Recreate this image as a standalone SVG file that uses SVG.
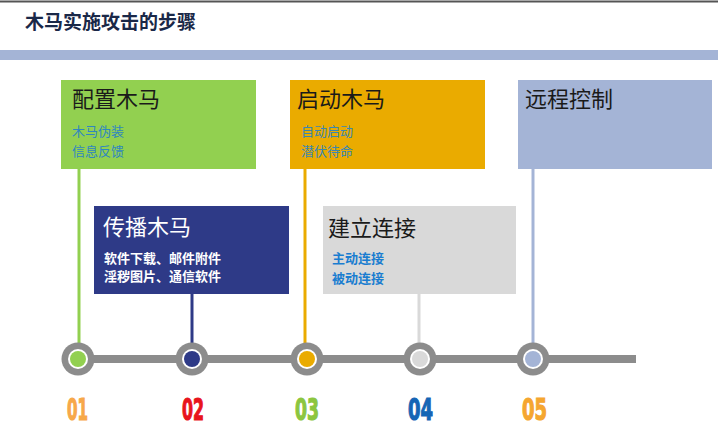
<svg xmlns="http://www.w3.org/2000/svg" width="718" height="430" viewBox="0 0 718 430">
<style>
.cjk{font-family:"Noto Sans CJK SC","Noto Sans",sans-serif}
.ttl{font-size:22px;fill:#1a1a1a}
.sub{font-size:13px}
.num{font-family:"Liberation Sans Narrow","DejaVu Sans Condensed","Liberation Sans",sans-serif;font-weight:bold;font-size:31px;stroke-width:1.2}
.ring{fill:#8c8c8c}
</style>
<rect width="718" height="430" fill="#ffffff"/>
<line x1="0" y1="1.5" x2="718" y2="1.5" stroke="#555" stroke-width="2"/>
<text class="cjk" x="25" y="29" font-size="19" font-weight="bold" fill="#1a2848">木马实施攻击的步骤</text>
<rect x="0" y="50" width="718" height="10" fill="#a4b4d6"/>

<g id="connectors" stroke-width="3">
<line x1="79" y1="169" x2="79" y2="345" stroke="#92d050"/>
<line x1="192" y1="294" x2="192" y2="345" stroke="#2e3a87"/>
<line x1="305" y1="169" x2="305" y2="345" stroke="#eaab00"/>
<line x1="419" y1="294" x2="419" y2="345" stroke="#d9d9d9"/>
<line x1="533" y1="169" x2="533" y2="345" stroke="#a4b4d6"/>
<line x1="78" y1="359" x2="636" y2="359" stroke="#8c8c8c" stroke-width="8"/>
</g>

<g id="step1">
<rect x="61" y="80" width="195" height="89" fill="#92d050"/>
<text class="cjk ttl" x="72" y="107">配置木马</text>
<text class="cjk sub" x="72" y="136" fill="#2f86c0">木马伪装</text>
<text class="cjk sub" x="72" y="156" fill="#2f86c0">信息反馈</text>
</g>
<g id="step2">
<rect x="94" y="206" width="195" height="88" fill="#2e3a87"/>
<text class="cjk ttl" x="103" y="235" style="fill:#ffffff">传播木马</text>
<text class="cjk" x="104" y="263" font-size="13" font-weight="bold" fill="#ffffff">软件下载、邮件附件</text>
<text class="cjk" x="104" y="281" font-size="13" font-weight="bold" fill="#ffffff">淫秽图片、通信软件</text>
</g>
<g id="step3">
<rect x="290" y="80" width="195" height="89" fill="#eaab00"/>
<text class="cjk ttl" x="297" y="107">启动木马</text>
<text class="cjk sub" x="301" y="136" fill="#3b87b0">自动启动</text>
<text class="cjk sub" x="301" y="156" fill="#3b87b0">潜伏待命</text>
</g>
<g id="step4">
<rect x="323" y="206" width="193" height="88" fill="#d9d9d9"/>
<text class="cjk ttl" x="328" y="236">建立连接</text>
<text class="cjk sub" x="332" y="263" font-weight="bold" fill="#1a7dd0">主动连接</text>
<text class="cjk sub" x="332" y="283" font-weight="bold" fill="#1a7dd0">被动连接</text>
</g>
<g id="step5">
<rect x="518" y="80" width="194" height="89" fill="#a4b4d6"/>
<text class="cjk ttl" x="525" y="107">远程控制</text>
</g>

<g id="dot1"><circle class="ring" cx="78" cy="359" r="16.5"/><circle cx="78" cy="359" r="10" fill="#fff"/><circle cx="78" cy="359" r="8" fill="#92d050"/></g>
<g id="dot2"><circle class="ring" cx="192" cy="359" r="16.5"/><circle cx="192" cy="359" r="10" fill="#fff"/><circle cx="192" cy="359" r="8" fill="#2e3a87"/></g>
<g id="dot3"><circle class="ring" cx="307" cy="359" r="16.5"/><circle cx="307" cy="359" r="10" fill="#fff"/><circle cx="307" cy="359" r="8" fill="#eaab00"/></g>
<g id="dot4"><circle class="ring" cx="420" cy="359" r="16.5"/><circle cx="420" cy="359" r="10" fill="#fff"/><circle cx="420" cy="359" r="8" fill="#d9d9d9"/></g>
<g id="dot5"><circle class="ring" cx="533" cy="359" r="16.5"/><circle cx="533" cy="359" r="10" fill="#fff"/><circle cx="533" cy="359" r="8" fill="#a4b4d6"/></g>

<text class="num" x="67" y="420" fill="#f7a84a" stroke="#f7a84a" textLength="21" lengthAdjust="spacingAndGlyphs">01</text>
<text class="num" x="182" y="420" fill="#e8141c" stroke="#e8141c" textLength="22" lengthAdjust="spacingAndGlyphs">02</text>
<text class="num" x="295" y="420" fill="#8cc63f" stroke="#8cc63f" textLength="24" lengthAdjust="spacingAndGlyphs">03</text>
<text class="num" x="408" y="420" fill="#1565b5" stroke="#1565b5" textLength="25" lengthAdjust="spacingAndGlyphs">04</text>
<text class="num" x="522" y="420" fill="#f5a630" stroke="#f5a630" textLength="25" lengthAdjust="spacingAndGlyphs">05</text>
</svg>
